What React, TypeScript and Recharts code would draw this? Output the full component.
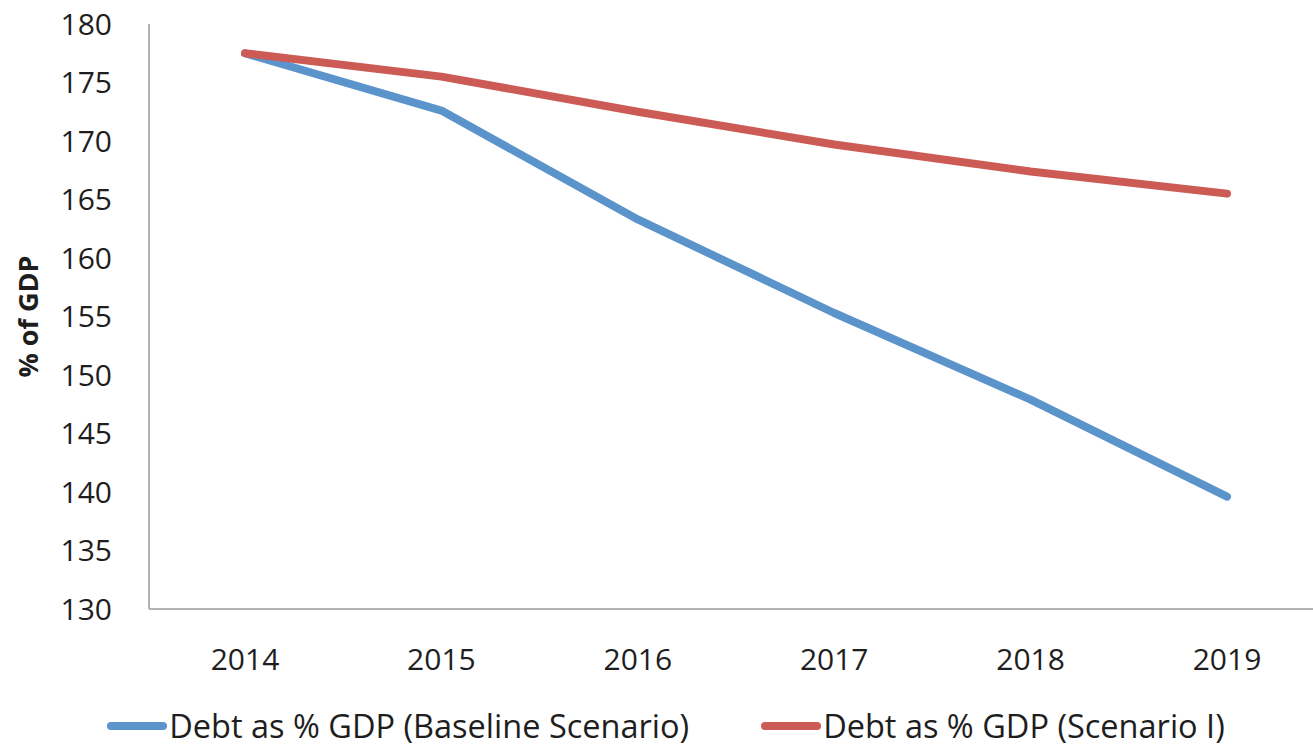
import { LineChart, Line, XAxis, YAxis, Legend } from "recharts";

const years = ["2014", "2015", "2016", "2017", "2018", "2019"];
const baseline = [177.5, 172.6, 163.3, 155.3, 147.9, 139.6];
const scenarioI = [177.5, 175.5, 172.5, 169.7, 167.4, 165.5];
const yTicks = [130, 135, 140, 145, 150, 155, 160, 165, 170, 175, 180];

const BLUE = "#5b93cb";
const RED = "#cc5b55";
const FONT = "'Open Sans', sans-serif";
const TEXT = "#1e1e1e";

const data = years.map((year, i) => ({
  year,
  baseline: baseline[i],
  scenarioI: scenarioI[i],
}));

const legendItems = [
  { name: "Debt as % GDP (Baseline Scenario)", color: BLUE },
  { name: "Debt as % GDP (Scenario I)", color: RED },
];

const LegendContent = () => (
  <div
    style={{
      display: "flex",
      justifyContent: "center",
      gap: 72,
      paddingLeft: 19,
      paddingTop: 0,
      fontFamily: FONT,
      fontSize: 32.5,
      color: TEXT,
      lineHeight: "44px",
      height: 44,
      whiteSpace: "nowrap",
    }}
  >
    {legendItems.map((item) => (
      <div key={item.name} style={{ display: "flex", alignItems: "center" }}>
        <span
          style={{
            display: "inline-block",
            width: 60,
            height: 8,
            borderRadius: 4,
            background: item.color,
            marginRight: 2,
          }}
        />
        <span>{item.name}</span>
      </div>
    ))}
  </div>
);

const App = () => {
  return (
    <div style={{ position: "absolute", left: 0, top: 0, background: "#fff" }}>
      <LineChart
        width={1313}
        height={749}
        data={data}
        margin={{ top: 24, right: 0, bottom: 0, left: 0 }}
      >
        <XAxis
          dataKey="year"
          height={95}
          padding={{ left: 96, right: 86 }}
          tickLine={false}
          tickSize={0}
          tickMargin={40}
          axisLine={{ stroke: "#b3b3b3", strokeWidth: 2 }}
          tick={{ fill: TEXT, fontSize: 30, fontFamily: FONT }}
        />
        <YAxis
          width={149}
          domain={[130, 180]}
          ticks={yTicks}
          interval={0}
          tickLine={false}
          tickSize={0}
          tickMargin={37}
          axisLine={{ stroke: "#b3b3b3", strokeWidth: 2 }}
          tick={{ fill: TEXT, fontSize: 30, fontFamily: FONT }}
          label={{
            value: "% of GDP",
            angle: -90,
            position: "center",
            dx: -46,
            fill: TEXT,
            fontSize: 27,
            fontWeight: "bold",
            fontFamily: FONT,
          }}
        />
        <Legend verticalAlign="bottom" height={45} content={<LegendContent />} />
        <Line
          dataKey="baseline"
          name="Debt as % GDP (Baseline Scenario)"
          stroke={BLUE}
          strokeWidth={8}
          strokeLinecap="round"
          strokeLinejoin="round"
          dot={false}
          activeDot={false}
          isAnimationActive={false}
        />
        <Line
          dataKey="scenarioI"
          name="Debt as % GDP (Scenario I)"
          stroke={RED}
          strokeWidth={8}
          strokeLinecap="round"
          strokeLinejoin="round"
          dot={false}
          activeDot={false}
          isAnimationActive={false}
        />
      </LineChart>
    </div>
  );
};

export default App;
